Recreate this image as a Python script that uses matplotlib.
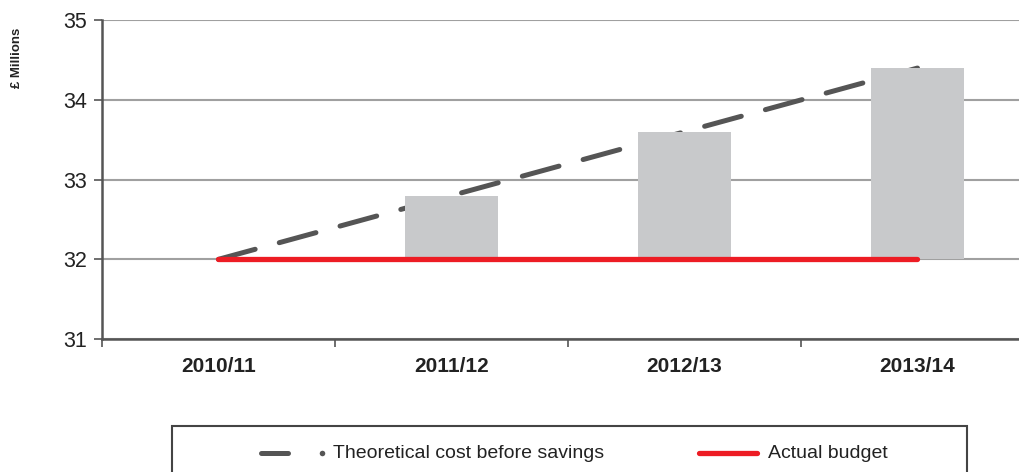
import matplotlib
matplotlib.use("Agg")
import matplotlib.pyplot as plt
from matplotlib.lines import Line2D
from matplotlib.patches import Rectangle
import numpy as np

plt.rcParams['font.family'] = ['Liberation Sans', 'DejaVu Sans']

categories = ['2010/11', '2011/12', '2012/13', '2013/14']
theoretical = [32.0, 32.8, 33.6, 34.4]
budget = [32.0, 32.0, 32.0, 32.0]
series_names = ['Theoretical cost before savings', 'Actual budget']
y_ticks = [31, 32, 33, 34, 35]

W, H = 1020, 472
fig = plt.figure(figsize=(W / 100, H / 100), dpi=100)
ax = fig.add_axes([102 / W, (H - 339) / H, 932 / W, 319 / H])

x = np.arange(len(categories))
gaps = [t - b for t, b in zip(theoretical, budget)]

ax.plot(x, theoretical, color='#555555', lw=3.6, dashes=(7.6, 5.0),
        dash_capstyle='round', zorder=2)
ax.bar(x, gaps, bottom=budget, width=0.4, color='#c8c9cb', zorder=3)
ax.plot(x, budget, color='#ed1c24', lw=3.8, solid_capstyle='round', zorder=4)

ax.set_xlim(-0.5, len(categories) - 0.5)
ax.set_ylim(31, 35.003)
ax.set_yticks(y_ticks)
ax.set_yticklabels([str(v) for v in y_ticks], fontsize=15.5, color='#222222')
ax.yaxis.grid(True, color='#a0a0a0', lw=1.5, zorder=0)
ax.set_axisbelow(True)

ax.set_xticks(x)
ax.set_xticklabels(categories, fontsize=15, fontweight='bold', color='#222222')
ax.set_xticks(np.arange(-0.5, len(categories), 1.0), minor=True)
ax.tick_params(axis='x', which='major', length=0, pad=13)
ax.tick_params(axis='x', which='minor', length=6, width=1.2, color='#555555', direction='out')
ax.tick_params(axis='y', length=6, width=1.2, color='#555555', direction='out', pad=5)

for s in ['top', 'right']:
    ax.spines[s].set_visible(False)
for s in ['left', 'bottom']:
    ax.spines[s].set_color('#555555')
    ax.spines[s].set_linewidth(1.8)

fig.text(17 / W, 1 - 58 / H, '£ Millions', rotation=90, fontsize=9.5,
         fontweight='bold', ha='center', va='center', color='#222222')

# legend box
fig.patches.append(Rectangle((172 / W, -0.1), (967 - 172) / W, 0.1 + (H - 426) / H,
                             transform=fig.transFigure, fill=False,
                             edgecolor='#444444', lw=1.5))
ly = (H - 453) / H
fig.lines.append(Line2D([261 / W, 288 / W], [ly, ly], transform=fig.transFigure,
                        color='#555555', lw=3.6, solid_capstyle='round'))
fig.lines.append(Line2D([322 / W], [ly], transform=fig.transFigure, marker='o',
                        markersize=4, color='#555555', markeredgewidth=0))
fig.text(333 / W, ly, series_names[0], fontsize=14, va='center', ha='left', color='#222222')
fig.lines.append(Line2D([699 / W, 757 / W], [ly, ly], transform=fig.transFigure,
                        color='#ed1c24', lw=3.8, solid_capstyle='round'))
fig.text(768 / W, ly, series_names[1], fontsize=14, va='center', ha='left', color='#222222')

fig.savefig('out.png', dpi=100)
